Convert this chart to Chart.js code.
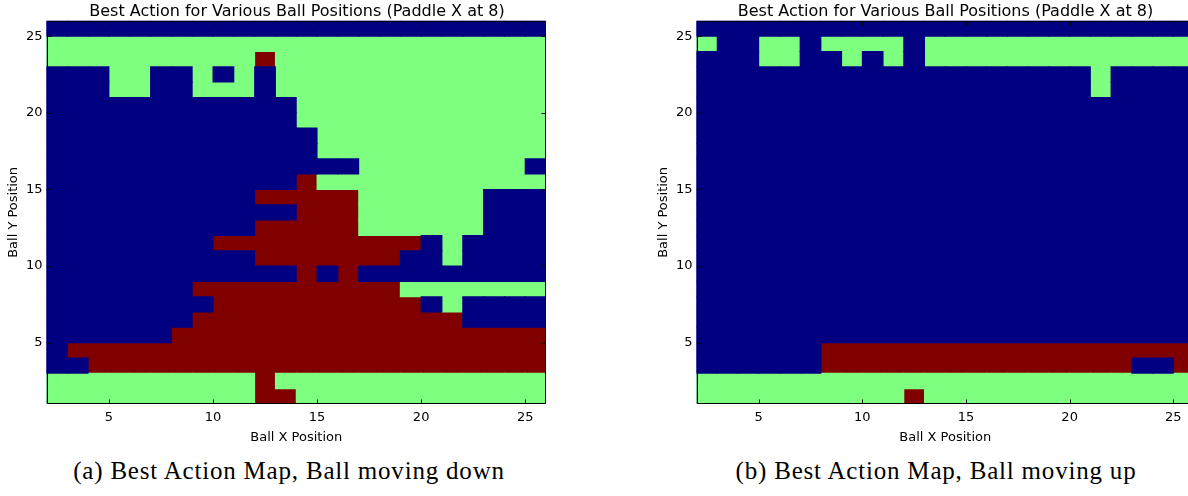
<!DOCTYPE html>
<html>
<head>
<meta charset="utf-8">
<script src="https://cdn.jsdelivr.net/npm/chart.js@4.4.0/dist/chart.umd.min.js"></script>
<style>
  html, body { margin: 0; padding: 0; background: #fff; width: 1188px; height: 496px; overflow: hidden; }
  .panel { position: absolute; top: 0; height: 450px; }
  #panel-a { left: 0; width: 594px; }
  #panel-b { left: 650px; width: 591px; }
  .caption {
    position: absolute; top: 456px; line-height: 30px;
    font-family: "Liberation Serif", serif; font-size: 25px; letter-spacing: 0.8px;
    color: #000; white-space: nowrap; transform: translateX(-50%);
  }
</style>
</head>
<body>
<div class="panel" id="panel-a"><canvas id="map-down"></canvas></div>
<div class="panel" id="panel-b"><canvas id="map-up"></canvas></div>
<div class="caption" style="left:289px">(a) Best Action Map, Ball moving down</div>
<div class="caption" style="left:936px">(b) Best Action Map, Ball moving up</div>
<script>
// ball x of each column (left edge of the cell), ball y of each row (bottom edge), top row first
const BALL_X = [2, 3, 4, 5, 6, 7, 8, 9, 10, 11, 12, 13, 14, 15, 16, 17, 18, 19, 20, 21, 22, 23, 24, 25];
const BALL_Y = [25, 24, 23, 22, 21, 20, 19, 18, 17, 16, 15, 14, 13, 12, 11, 10, 9, 8, 7, 6, 5, 4, 3, 2, 1];
const X_TICKS = [5, 10, 15, 20, 25];
const Y_TICKS = [5, 10, 15, 20, 25];

// best action per cell: 0 = blue, 1 = green, 2 = red
const ACTION_LABELS = ['Action 0', 'Action 1', 'Action 2'];
const ACTION_COLORS = ['#000080', '#7fff7f', '#800000'];

const BEST_DOWN = [
    '000000000000000000000000', // 25
    '111111111111111111111111', // 24
    '111111111121111111111111', // 23
    '000110010101111111111111', // 22
    '000110011101111111111111', // 21
    '000000000000111111111111', // 20
    '000000000000111111111111', // 19
    '000000000000011111111111', // 18
    '000000000000011111111111', // 17
    '000000000000000111111110', // 16
    '000000000000211111111111', // 15
    '000000000022222111111000', // 14
    '000000000000222111111000', // 13
    '000000000022222111111000', // 12
    '000000002222222222010000', // 11
    '000000000022222220010000', // 10
    '000000000000202000000000', // 9
    '000000022222222221111111', // 8
    '000000002222222222010000', // 7
    '000000022222222222220000', // 6
    '000000222222222222222222', // 5
    '022222222222222222222222', // 4
    '002222222222222222222222', // 3
    '111111111121111111111111', // 2
    '111111111122111111111111'  // 1
];

const BEST_UP = [
    '000000000000000000000000', // 25
    '100110111101111111111111', // 24
    '000110010101111111111111', // 23
    '000000000000000000010000', // 22
    '000000000000000000010000', // 21
    '000000000000000000000000', // 20
    '000000000000000000000000', // 19
    '000000000000000000000000', // 18
    '000000000000000000000000', // 17
    '000000000000000000000000', // 16
    '000000000000000000000000', // 15
    '000000000000000000000000', // 14
    '000000000000000000000000', // 13
    '000000000000000000000000', // 12
    '000000000000000000000000', // 11
    '000000000000000000000000', // 10
    '000000000000000000000000', // 9
    '000000000000000000000000', // 8
    '000000000000000000000000', // 7
    '000000000000000000000000', // 6
    '000000000000000000000000', // 5
    '000000222222222222222222', // 4
    '000000222222222222222002', // 3
    '111111111111111111111111', // 2
    '111111111121111111111111'  // 1
];

Chart.defaults.font.family = 'DejaVu Sans';
Chart.defaults.color = '#000';

function cellsFor(grid, action) {
    const cells = [];
    grid.forEach((row, r) => {
        for (let c = 0; c < row.length; c++) {
            if (Number(row[c]) === action) {
                cells.push({ x: BALL_X[c] + 0.5, y: [BALL_Y[r], BALL_Y[r] + 1] });
            }
        }
    });
    return cells;
}

// fill the plot with the first action colour so anti-aliasing seams between cells disappear
const plotBackground = {
    id: 'plotBackground',
    beforeDatasetsDraw(chart) {
        const { ctx, chartArea: a } = chart;
        ctx.save();
        ctx.fillStyle = ACTION_COLORS[0];
        ctx.fillRect(a.left, a.top, a.width, a.height);
        ctx.restore();
    }
};

// matplotlib style frame with ticks pointing inward on all four sides
const innerTicks = {
    id: 'innerTicks',
    afterDraw(chart) {
        const { ctx, chartArea: a, scales: { x, y } } = chart;
        const l = Math.round(a.left) + 0.5, r = Math.round(a.right) - 0.5;
        const t = Math.round(a.top) + 0.5, b = Math.round(a.bottom) - 0.5;
        ctx.save();
        ctx.strokeStyle = '#000';
        ctx.lineWidth = 1;
        ctx.beginPath();
        X_TICKS.forEach(v => {
            const px = Math.round(x.getPixelForValue(v)) + 0.5;
            ctx.moveTo(px, b); ctx.lineTo(px, b - 4);
            ctx.moveTo(px, t); ctx.lineTo(px, t + 4);
        });
        Y_TICKS.forEach(v => {
            const py = Math.round(y.getPixelForValue(v)) + 0.5;
            ctx.moveTo(l, py); ctx.lineTo(l + 4, py);
            ctx.moveTo(r, py); ctx.lineTo(r - 4, py);
        });
        ctx.rect(l, t, r - l, b - t);
        ctx.stroke();
        ctx.restore();
    }
};

function makeMap(canvasId, grid, rightGap) {
    return new Chart(document.getElementById(canvasId), {
        type: 'bar',
        data: {
            datasets: ACTION_COLORS.map((color, k) => ({
                label: ACTION_LABELS[k],
                data: cellsFor(grid, k),
                backgroundColor: color,
                borderWidth: 0,
                grouped: false,
                barPercentage: 1,
                categoryPercentage: 1,
                inflateAmount: 0.5
            }))
        },
        options: {
            responsive: true,
            maintainAspectRatio: false,
            animation: false,
            layout: { padding: 0 },
            plugins: {
                legend: { display: false },
                tooltip: { enabled: false },
                title: {
                    display: true,
                    text: 'Best Action for Various Ball Positions (Paddle X at 8)',
                    color: '#000',
                    font: { size: 16, weight: 'normal', lineHeight: 1.1 },
                    padding: { top: 3.2, bottom: 0 }
                }
            },
            scales: {
                x: {
                    type: 'linear',
                    min: 2,
                    max: 26,
                    offset: false,
                    grid: { display: false, drawTicks: false, offset: false },
                    border: { display: false },
                    afterBuildTicks: axis => { axis.ticks = X_TICKS.map(v => ({ value: v })); },
                    afterFit: axis => { axis.height = 46; },
                    ticks: { font: { size: 13 }, padding: 6, maxRotation: 0 },
                    title: { display: true, text: 'Ball X Position', font: { size: 13 }, padding: { top: 0, bottom: 5 } }
                },
                y: {
                    type: 'linear',
                    min: 1,
                    max: 26,
                    beginAtZero: false,
                    grid: { display: false, drawTicks: false },
                    border: { display: false },
                    afterBuildTicks: axis => { axis.ticks = Y_TICKS.map(v => ({ value: v })); },
                    afterFit: axis => { axis.width = 46.5; },
                    ticks: { font: { size: 13 }, padding: 4 },
                    title: { display: true, text: 'Ball Y Position', font: { size: 13 }, padding: { top: 6, bottom: 0 } }
                },
                // empty right-hand axis that only reserves the margin, so the title stays centred on the canvas
                yGap: {
                    type: 'linear',
                    position: 'right',
                    min: 1,
                    max: 26,
                    grid: { display: false, drawTicks: false },
                    border: { display: false },
                    ticks: { display: false },
                    afterFit: axis => { axis.width = rightGap; }
                }
            }
        },
        plugins: [plotBackground, innerTicks]
    });
}

makeMap('map-down', BEST_DOWN, 48);
makeMap('map-up', BEST_UP, 47);
</script>
</body>
</html>
